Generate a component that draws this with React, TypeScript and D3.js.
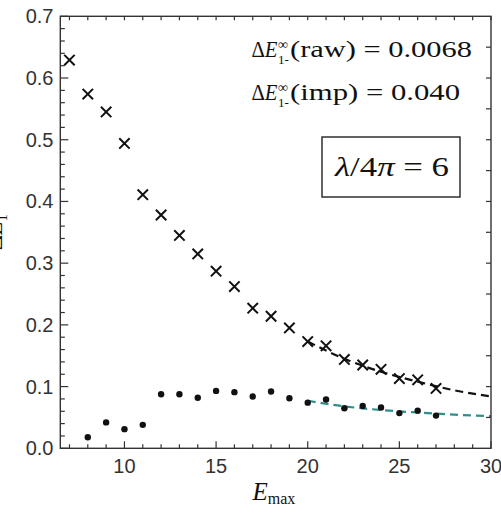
import React from "react";
import * as d3 from "d3";

const rawE = [7, 8, 9, 10, 11, 12, 13, 14, 15, 16, 17, 18, 19, 20, 21, 22, 23, 24, 25, 26, 27];
const rawVals = [0.629, 0.574, 0.545, 0.494, 0.411, 0.378, 0.345, 0.315, 0.287, 0.262, 0.227, 0.214, 0.195, 0.173, 0.166, 0.144, 0.135, 0.128, 0.113, 0.111, 0.097];

const impE = [8, 9, 10, 11, 12, 13, 14, 15, 16, 17, 18, 19, 20, 21, 22, 23, 24, 25, 26, 27];
const impVals = [0.018, 0.042, 0.031, 0.038, 0.0875, 0.0875, 0.082, 0.093, 0.091, 0.084, 0.092, 0.081, 0.074, 0.079, 0.065, 0.0685, 0.066, 0.057, 0.061, 0.053];

const fitE = [20, 22, 24, 26, 28, 30];
const rawFit = [0.173, 0.145, 0.124, 0.108, 0.094, 0.084];
const impFit = [0.077, 0.068, 0.062, 0.058, 0.0545, 0.052];

const xMajor = [10, 15, 20, 25, 30];
const yMajor = [0.0, 0.1, 0.2, 0.3, 0.4, 0.5, 0.6, 0.7];

const W = 501, H = 519;
const L = 60.3, R = 491, T = 16.3, B = 448.3;

export default function App() {
  const x = d3.scaleLinear().domain([6.5, 30]).range([L, R]);
  const y = d3.scaleLinear().domain([0, 0.7]).range([B, T]);
  const axisColor = "#333";
  const line = d3.line<[number, number]>().x(d => x(d[0])).y(d => y(d[1])).curve(d3.curveMonotoneX);

  const minorX = d3.range(7, 31, 1);
  const minorY = d3.range(0, 0.7001, 0.02);
  const rightY = d3.range(0.05, 0.7, 0.05);

  const serif = "'Liberation Serif', 'DejaVu Serif', serif";
  const sans = "'Liberation Sans', Arial, sans-serif";

  return (
    <svg width={W} height={H} style={{ position: "absolute", left: 0, top: 0, background: "#fff" }}>
      {/* fits */}
      <path d={line(fitE.map((e, i) => [e, rawFit[i]]) as any) || ""} fill="none" stroke="#111" strokeWidth={2.2} strokeDasharray="8,5" />
      <path d={line(fitE.map((e, i) => [e, impFit[i]]) as any) || ""} fill="none" stroke="#2f8f8a" strokeWidth={2.2} strokeDasharray="8,5" />

      {/* crosses */}
      {rawE.map((e, i) => {
        const cx = x(e), cy = y(rawVals[i]), s = 5.2;
        return (
          <path key={"c" + i} d={`M${cx - s},${cy - s}L${cx + s},${cy + s}M${cx - s},${cy + s}L${cx + s},${cy - s}`} stroke="#111" strokeWidth={2} />
        );
      })}
      {/* dots */}
      {impE.map((e, i) => (
        <circle key={"d" + i} cx={x(e)} cy={y(impVals[i])} r={3.2} fill="#111" />
      ))}

      {/* frame */}
      <rect x={L} y={T} width={R - L} height={B - T} fill="none" stroke={axisColor} strokeWidth={1.4} />
      {minorX.map(v => (
        <line key={"bx" + v} x1={x(v)} x2={x(v)} y1={B} y2={B - (v % 5 === 0 ? 7 : 4)} stroke={axisColor} strokeWidth={1.2} />
      ))}
      {minorX.map(v => (
        <line key={"tx" + v} x1={x(v)} x2={x(v)} y1={T} y2={T + 4} stroke={axisColor} strokeWidth={1.2} />
      ))}
      {minorY.map((v, i) => (
        <line key={"ly" + i} x1={L} x2={L + (i % 5 === 0 ? 8 : 4.5)} y1={y(v)} y2={y(v)} stroke={axisColor} strokeWidth={1.2} />
      ))}
      {rightY.map((v, i) => (
        <line key={"ry" + i} x1={R} x2={R - 5} y1={y(v)} y2={y(v)} stroke={axisColor} strokeWidth={1.2} />
      ))}

      {/* tick labels */}
      {xMajor.map(v => (
        <text key={"xl" + v} x={x(v)} y={472.5} textAnchor="middle" fontFamily={sans} fontSize={20} fill="#333">{v}</text>
      ))}
      {yMajor.map(v => (
        <text key={"yl" + v} x={53.5} y={y(v) + 7} textAnchor="end" fontFamily={sans} fontSize={20} fill="#333">{v.toFixed(1)}</text>
      ))}

      {/* axis labels */}
      <text x={252.5} y={500} fontFamily={serif} fontSize={25} fill="#111">
        <tspan fontStyle="italic">E</tspan>
        <tspan fontSize={16} dy={4}>max</tspan>
      </text>
      <text transform="translate(2,250) rotate(-90)" fontFamily={serif} fontSize={23} fill="#111">
        <tspan>Δ</tspan>
        <tspan fontStyle="italic">E</tspan>
        <tspan fontSize={14} dy={5}>1</tspan>
        <tspan fontSize={14} dy={-12}>−</tspan>
      </text>

      {/* annotations */}
      <text x={251.5} y={57} fontFamily={serif} fontSize={23} fill="#111" textLength={26} lengthAdjust="spacingAndGlyphs">
        <tspan>Δ</tspan>
        <tspan fontStyle="italic">E</tspan>
      </text>
      <text x={278} y={49} fontFamily={serif} fontSize={14} fill="#111">∞</text>
      <text x={278} y={64} fontFamily={serif} fontSize={13} fill="#111">1-</text>
      <text x={290} y={57} fontFamily={serif} fontSize={23} fill="#111" textLength={182} lengthAdjust="spacingAndGlyphs">(raw) = 0.0068</text>

      <text x={251.5} y={100} fontFamily={serif} fontSize={23} fill="#111" textLength={26} lengthAdjust="spacingAndGlyphs">
        <tspan>Δ</tspan>
        <tspan fontStyle="italic">E</tspan>
      </text>
      <text x={278} y={92} fontFamily={serif} fontSize={14} fill="#111">∞</text>
      <text x={278} y={107} fontFamily={serif} fontSize={13} fill="#111">1-</text>
      <text x={290} y={100} fontFamily={serif} fontSize={23} fill="#111" textLength={170} lengthAdjust="spacingAndGlyphs">(imp) = 0.040</text>

      <rect x={322} y={137} width={138} height={60} fill="#fff" stroke="#222" strokeWidth={1.4} />
      <text x={335} y={176} fontFamily={serif} fontSize={28} fill="#111" textLength={114} lengthAdjust="spacingAndGlyphs">
        <tspan fontStyle="italic">λ</tspan>
        <tspan>/4</tspan>
        <tspan fontStyle="italic">π</tspan>
        <tspan> = 6</tspan>
      </text>
    </svg>
  );
}
